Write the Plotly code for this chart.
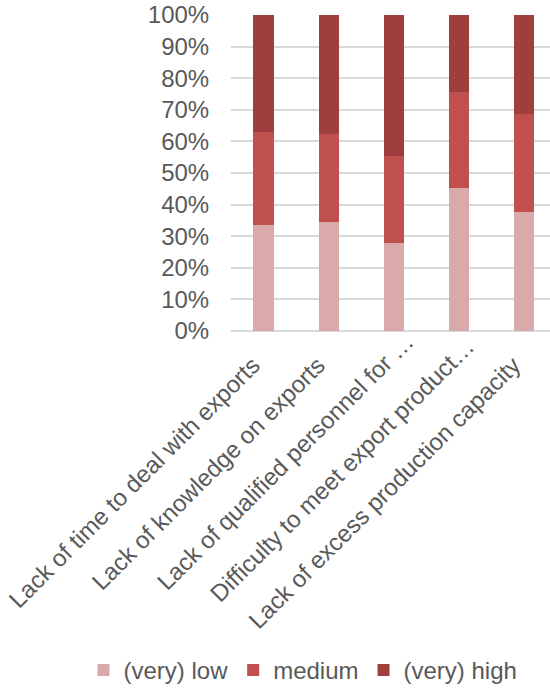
import plotly.graph_objects as go

categories = [
    "Lack of time to deal with exports",
    "Lack of knowledge on exports",
    "Lack of qualified personnel for …",
    "Difficulty to meet export product…",
    "Lack of excess production capacity",
]
series_names = ["(very) low", "medium", "(very) high"]
very_low = [33.5, 34.4, 27.7, 45.4, 37.8]
medium = [29.4, 27.8, 27.7, 30.2, 31.0]
very_high = [37.1, 37.8, 44.6, 24.4, 31.2]
colors = ["#DAA9A9", "#C0504D", "#9E3F3D"]

fig = go.Figure()
for name, vals, col in zip(series_names, [very_low, medium, very_high], colors):
    fig.add_trace(go.Bar(
        x=list(range(len(categories))), y=vals, name=name,
        marker=dict(color=col, line=dict(width=0)),
    ))

font = dict(family="Liberation Sans, Arial, sans-serif", color="#595959", size=24)
pads = [5, 5, 0, 1, 5]
fig.update_layout(
    barmode="stack",
    bargap=0.69,
    width=550, height=693,
    margin=dict(l=231, r=0, t=15, b=362),
    paper_bgcolor="white", plot_bgcolor="white",
    font=font,
    showlegend=True,
    legend=dict(orientation="h", x=-0.4624, xanchor="left", xref="paper",
                y=(331 - 671.5) / 316, yanchor="middle", yref="paper",
                font=dict(size=24, color="#595959"), traceorder="normal",
                itemwidth=30),
    xaxis=dict(
        tickmode="array", tickvals=list(range(len(categories))),
        ticktext=[c + "\u00a0" * p for c, p in zip(categories, pads)],
        tickangle=-45, range=[-0.5, 4.4], showgrid=False, zeroline=False,
        ticks="", tickfont=font, showline=False,
        ticklabelshift=13, ticklabelstandoff=-9,
    ),
    yaxis=dict(
        range=[0, 100], tickvals=list(range(0, 101, 10)),
        ticktext=[f"{v}%" for v in range(0, 101, 10)],
        showgrid=True, gridcolor="#D9D9D9", gridwidth=1.5,
        zeroline=True, zerolinecolor="#D9D9D9", zerolinewidth=1.5,
        ticks="outside", ticklen=16, tickcolor="rgba(0,0,0,0)",
        tickfont=font,
    ),
)
fig.write_html("out.html")
